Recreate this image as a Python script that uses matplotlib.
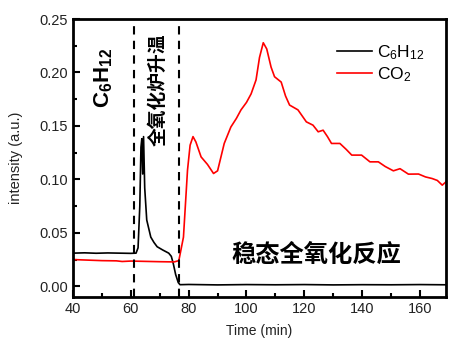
import matplotlib
matplotlib.use("Agg")
import matplotlib.pyplot as plt
from matplotlib.ticker import MultipleLocator

plt.rcParams['font.family'] = ['Liberation Sans', 'DejaVu Sans']
plt.rcParams['mathtext.fontset'] = 'custom'
plt.rcParams['mathtext.rm'] = 'Liberation Sans'
plt.rcParams['mathtext.it'] = 'Liberation Sans'
plt.rcParams['mathtext.bf'] = 'Liberation Sans:bold'

# C6H12 signal
c6_time = [40, 44, 48, 52, 56, 60, 61.8, 62.5, 63.1, 63.5, 63.8, 64.1, 64.4, 64.8, 65.5,
           66.9, 68, 69.1, 71, 73.1, 74, 74.7, 75.5, 76.4, 77, 80, 90, 100, 110, 120,
           130, 140, 150, 160, 169]
c6_vals = [0.031, 0.0313, 0.0309, 0.0312, 0.031, 0.0308, 0.031, 0.036, 0.075, 0.13, 0.138,
           0.105, 0.14, 0.092, 0.062, 0.046, 0.041, 0.037, 0.034, 0.031, 0.028, 0.021,
           0.011, 0.0035, 0.0015, 0.0017, 0.0013, 0.0016, 0.0014, 0.0016, 0.0013,
           0.0015, 0.0014, 0.0016, 0.0014]

# CO2 signal
co2_time = [40, 45, 50, 55, 57, 60, 65, 70, 75, 76.6, 78.2, 79.6, 80.5, 81.5, 82.5, 84.3,
            86.5, 88.6, 90, 92.3, 94.6, 96.5, 98.1, 100, 101.6, 103.3, 104.5, 105.8, 107,
            108.5, 109.7, 112, 113.5, 114.9, 117.8, 120.7, 123, 124.8, 126.5, 128,
            129.4, 132.3, 134.5, 136.4, 139.8, 142.7, 145.6, 148, 150.8, 153.1, 156,
            159.5, 161.9, 164.2, 166, 167.7, 169]
co2_vals = [0.025, 0.0245, 0.024, 0.0238, 0.0232, 0.0236, 0.0233, 0.023, 0.0228, 0.024,
            0.046, 0.1086, 0.132, 0.140, 0.135, 0.121, 0.114, 0.1055, 0.108, 0.1336,
            0.149, 0.157, 0.165, 0.172, 0.180, 0.193, 0.214, 0.2278, 0.222, 0.205,
            0.196, 0.191, 0.178, 0.1695, 0.165, 0.1538, 0.1507, 0.1445, 0.146, 0.140,
            0.1336, 0.1336, 0.128, 0.1227, 0.1227, 0.1164, 0.1164, 0.112, 0.108, 0.110,
            0.1049, 0.105, 0.1023, 0.1008, 0.099, 0.0946, 0.0977]

dash_times = [61.0, 76.8]

fig = plt.figure(figsize=(4.58, 3.48), dpi=100)
ax = fig.add_axes([0.1594, 0.1466, 0.8144, 0.7988])

ax.plot(c6_time, c6_vals, color='black', lw=1.2, label=r'C$_6$H$_{12}$')
ax.plot(co2_time, co2_vals, color='red', lw=1.2, label=r'CO$_2$')
for t in dash_times:
    ax.axvline(t, color='black', ls=(0, (4, 3)), lw=1.5)

ax.set_xlim(40, 169)
ax.set_ylim(-0.01, 0.25)
ax.xaxis.set_major_locator(MultipleLocator(20))
ax.xaxis.set_minor_locator(MultipleLocator(10))
ax.yaxis.set_major_locator(MultipleLocator(0.05))
ax.yaxis.set_minor_locator(MultipleLocator(0.025))
ax.yaxis.set_major_formatter(matplotlib.ticker.FormatStrFormatter('%.2f'))
ax.tick_params(which='both', direction='in', width=1.5, labelsize=10.5, colors='black',
               labelcolor='#222222')
ax.tick_params(which='major', length=5)
ax.tick_params(which='minor', length=3)
for s in ax.spines.values():
    s.set_linewidth(2)

ax.set_xlabel('Time (min)', fontsize=10, color='#222222', labelpad=6)
ax.set_ylabel('intensity (a.u.)', fontsize=10.5, color='#222222', labelpad=12)

ax.legend(loc='upper right', frameon=False, fontsize=12.5, handlelength=2.0,
          borderaxespad=0.5, labelspacing=0.2, handletextpad=0.3,
          bbox_to_anchor=(0.985, 0.97))

ax.text(50.5, 0.195, r'$\mathbf{C_6H_{12}}$', rotation=90, fontsize=16,
        ha='center', va='center')
ax.text(69.3, 0.184, '全氧化炉升温', rotation=90, fontsize=13.5, fontweight='bold',
        family=['Noto Sans CJK SC'], ha='center', va='center')
ax.text(124, 0.029, '稳态全氧化反应', fontsize=17.5, fontweight='bold',
        family=['Noto Sans CJK SC'], ha='center', va='center')

fig.savefig('out.png', dpi=100)
